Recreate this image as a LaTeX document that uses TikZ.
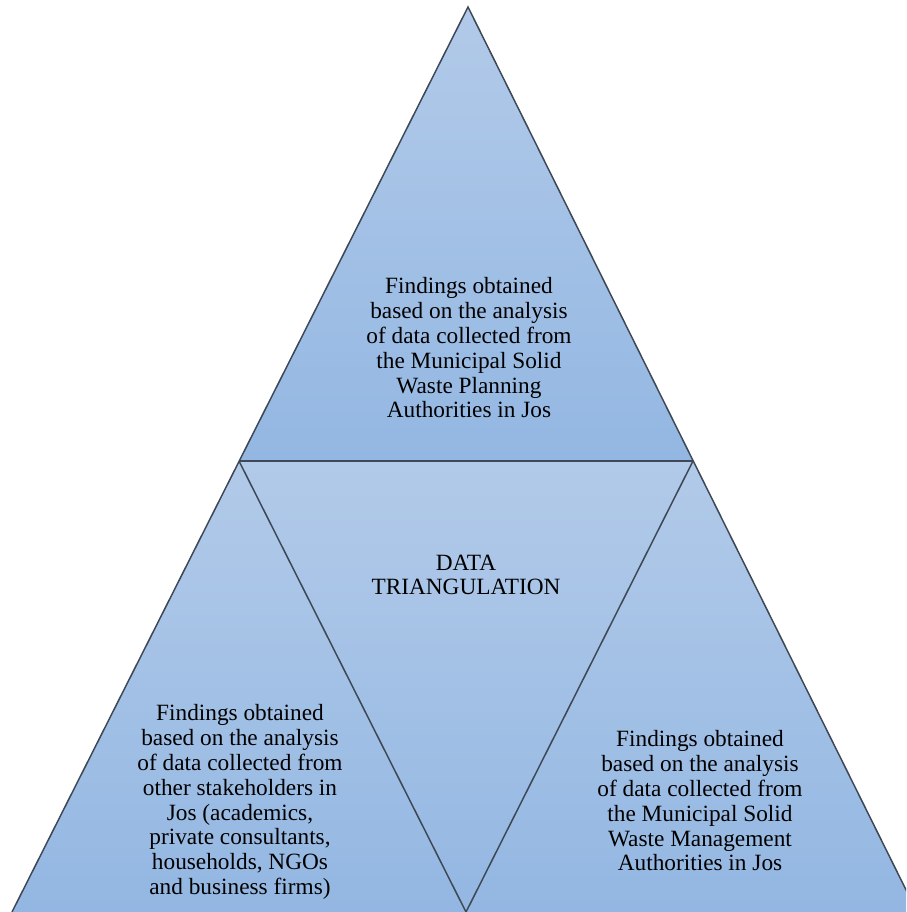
\documentclass[tikz,border=0pt]{standalone}
\usepackage{fontspec}
\setmainfont{Liberation Serif}
\definecolor{fillLight}{RGB}{178,202,233}
\definecolor{fillDark}{RGB}{147,183,226}
\definecolor{edgeGray}{RGB}{62,72,86}
\begin{document}
\begin{tikzpicture}[x=1pt,y=-1pt,
  facet/.style={top color=fillLight, bottom color=fillDark},
  rim/.style={draw=edgeGray, line width=1.5pt, line join=miter},
  label/.style={align=center, font=\fontsize{23.3}{24.8}\selectfont, inner sep=0pt}]
  \useasboundingbox (0,0) rectangle (906,912);
  \clip (0,0) rectangle (906,912);
  % corner points of the split triangle
  \coordinate (apex) at (468,7);
  \coordinate (midL) at (239,461);
  \coordinate (midR) at (693,461);
  \coordinate (baseL) at (12,912);
  \coordinate (baseM) at (466,912);
  \coordinate (baseR) at (917,912);
  % four shaded faces
  \shade[facet] (apex) -- (midR) -- (midL) -- cycle;
  \shade[facet] (midL) -- (midR) -- (baseM) -- cycle;
  \shade[facet] (midL) -- (baseM) -- (baseL) -- cycle;
  \shade[facet] (midR) -- (baseR) -- (baseM) -- cycle;
  % outlines
  \draw[rim] (baseL) -- (apex) -- (baseR);
  \draw[rim] (midL) -- (midR);
  \draw[rim] (midL) -- (baseM) -- (midR);
  % texts
  \node[label] (top) at (469,348) {Findings obtained\\based on the analysis\\of data collected from\\the Municipal Solid\\Waste Planning\\Authorities in Jos};
  \node[label] (centre) at (466,575) {DATA\\TRIANGULATION};
  \node[label] (left) at (240,802) {Findings obtained\\based on the analysis\\of data collected from\\other stakeholders in\\Jos (academics,\\private consultants,\\households, NGOs\\and business firms)};
  \node[label] (right) at (700,801) {Findings obtained\\based on the analysis\\of data collected from\\the Municipal Solid\\Waste Management\\Authorities in Jos};
\end{tikzpicture}
\end{document}
